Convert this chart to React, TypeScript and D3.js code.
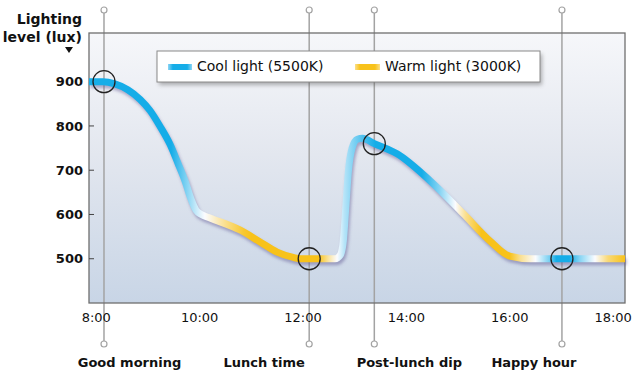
import React from "react";
import * as d3 from "d3";

// ---- data ----
const curveHours = [7.86, 8.13, 8.36, 8.61, 8.85, 9.04, 9.23, 9.43, 9.58, 9.72, 9.83, 9.93, 10.03, 10.2, 10.78, 11.17, 11.5, 11.81, 11.95, 12.62, 12.72, 12.78, 12.83, 12.88, 12.95, 13.05, 13.15, 13.38, 13.82, 14.46, 15.1, 15.62, 16.0, 16.4, 18.23];
const curveLux = [900, 900, 895, 882, 860, 835, 800, 758, 716, 675, 636, 610, 600, 592, 565, 538, 515, 503, 500, 500, 508, 540, 620, 700, 750, 770, 772, 760, 737, 676, 602, 540, 506, 500, 500];

// colour temperature along the day: 1 = cool, 0 = neutral, -1 = warm
const toneHours = [7.86, 9.45, 9.7, 9.95, 10.1, 10.5, 10.85, 11.0, 12.3, 12.5, 12.66, 12.8, 12.95, 13.15, 13.4, 14.3, 14.65, 14.95, 15.15, 15.45, 16.0, 16.2, 16.5, 16.78, 16.9, 17.15, 17.36, 17.65, 17.9, 18.23];
const toneValues = [1, 1, 0.6, 0.2, 0, -0.5, -0.9, -1, -1, -0.4, 0, 0.3, 0.5, 0.75, 1, 1, 0.5, 0, -0.5, -1, -1, -0.5, 0, 0.6, 1, 1, 0.5, 0, -0.6, -1];

const eventNames = ["Good morning", "Lunch time", "Post-lunch dip", "Happy hour"];
const eventHours = [8.15, 12.12, 13.38, 17.01];
const eventLux = [900, 500, 760, 500];

const xTickHours = [8, 10, 12, 14, 16, 18];
const xTickLabels = ["8:00", "10:00", "12:00", "14:00", "16:00", "18:00"];
const yTicks = [500, 600, 700, 800, 900];

const legendLabels = ["Cool light (5500K)", "Warm light (3000K)"];

// ---- layout ----
const W = 640, H = 381;
const PL = 89, PR = 625, PT = 33, PB = 303;
const LABEL_DX = [25.5, -45, 35, -28];
const COOL = "#15ade8";
const WARM = "#f8c21a";
const NEUTRAL = "#fbfcff";
const FONT = "'DejaVu Sans', sans-serif";

const x = d3.scaleLinear().domain([7.86, 18.23]).range([PL, PR]);
const y = d3.scaleLinear().domain([400, 1010]).range([PB, PT]);

function toneColor(t: number) {
  if (t >= 0) return d3.interpolateRgb(NEUTRAL, COOL)(t);
  return d3.interpolateRgb(NEUTRAL, WARM)(-t);
}

export default function App() {
  const pts = curveHours.map((h, i) => [h, curveLux[i]] as [number, number]);
  const line = d3
    .line<[number, number]>()
    .x((d) => x(d[0]))
    .y((d) => y(d[1]))
    .curve(d3.curveMonotoneX);
  const path = line(pts) || "";
  const x0 = x(curveHours[0]);
  const x1 = x(curveHours[curveHours.length - 1]);

  return (
    <div style={{ position: "absolute", left: 0, top: 0 }}>
      <svg width={W} height={H} style={{ display: "block", fontFamily: FONT }}>
        <defs>
          <linearGradient id="bg" x1="0" y1="0" x2="0" y2="1">
            <stop offset="0" stopColor="#f6f7fa" />
            <stop offset="0.45" stopColor="#e3e7ef" />
            <stop offset="1" stopColor="#c8d5e6" />
          </linearGradient>
          <linearGradient id="curveGrad" gradientUnits="userSpaceOnUse" x1={x0} y1={0} x2={x1} y2={0}>
            {toneHours.map((h, i) => (
              <stop key={i} offset={(x(h) - x0) / (x1 - x0)} stopColor={toneColor(toneValues[i])} />
            ))}
          </linearGradient>
          <linearGradient id="swCool" x1="0" y1="0" x2="1" y2="0">
            <stop offset="0" stopColor="#8fd6f5" />
            <stop offset="0.2" stopColor={COOL} />
            <stop offset="0.8" stopColor={COOL} />
            <stop offset="1" stopColor="#8fd6f5" />
          </linearGradient>
          <linearGradient id="swWarm" x1="0" y1="0" x2="1" y2="0">
            <stop offset="0" stopColor="#fbe08a" />
            <stop offset="0.2" stopColor={WARM} />
            <stop offset="0.8" stopColor={WARM} />
            <stop offset="1" stopColor="#fbe08a" />
          </linearGradient>
          <filter id="blur" x="-10%" y="-10%" width="120%" height="130%">
            <feGaussianBlur stdDeviation="1.6" />
          </filter>
          <filter id="legShadow" x="-5%" y="-20%" width="115%" height="160%">
            <feGaussianBlur stdDeviation="2" />
          </filter>
        </defs>

        {/* plot background */}
        <rect x={PL} y={PT} width={PR - PL} height={PB - PT} fill="url(#bg)" />

        {/* event guide lines */}
        {eventHours.map((h, i) => (
          <g key={i}>
            <line x1={x(h)} x2={x(h)} y1={13} y2={341} stroke="#a3a3a3" strokeWidth={1.5} />
            <circle cx={x(h)} cy={10} r={3} fill="#fff" stroke="#a3a3a3" strokeWidth={1.2} />
            <circle cx={x(h)} cy={344} r={3} fill="#fff" stroke="#a3a3a3" strokeWidth={1.2} />
            <text x={x(h) + LABEL_DX[i]} y={367} textAnchor="middle" fontSize={13} fontWeight="bold" fill="#111">
              {eventNames[i]}
            </text>
          </g>
        ))}

        {/* plot border */}
        <rect x={PL} y={PT} width={PR - PL} height={PB - PT} fill="none" stroke="#6f6f6f" strokeWidth={1.3} />

        {/* y axis ticks */}
        {yTicks.map((t) => (
          <g key={t}>
            <line x1={PL} x2={PL + 5} y1={y(t)} y2={y(t)} stroke="#444" strokeWidth={1} />
            <text x={83} y={y(t)} dy="0.36em" textAnchor="end" fontSize={13} fontWeight="bold" fill="#111">
              {t}
            </text>
          </g>
        ))}

        {/* x axis labels */}
        {xTickHours.map((h, i) => (
          <text key={h} x={x(h)} y={322} textAnchor="middle" fontSize={13} fill="#111">
            {xTickLabels[i]}
          </text>
        ))}

        {/* y axis title */}
        <text x={82} y={24} textAnchor="end" fontSize={14} fontWeight="bold" fill="#111">Lighting</text>
        <text x={82} y={42} textAnchor="end" fontSize={14} fontWeight="bold" fill="#111">level (lux)</text>
        <path d="M65,47 L73,47 L69,53 Z" fill="#111" />

        {/* curve shadow + curve */}
        <path d={path} fill="none" stroke="#5c5290" strokeOpacity={0.45} strokeWidth={7} transform="translate(1.5,3)" filter="url(#blur)" />
        <path d={path} fill="none" stroke="url(#curveGrad)" strokeWidth={7} strokeLinejoin="round" />

        {/* event markers */}
        {eventHours.map((h, i) => (
          <circle key={i} cx={x(h)} cy={y(eventLux[i])} r={11} fill="none" stroke="#222" strokeWidth={1.3} />
        ))}

        {/* legend */}
        <rect x={159} y={54} width={383} height={31} fill="#555" opacity={0.45} filter="url(#legShadow)" />
        <rect x={157} y={51} width={383} height={31} fill="#fff" stroke="#8a8a8a" strokeWidth={1} />
        <rect x={168} y={64} width={24} height={6} fill="url(#swCool)" />
        <text x={197} y={71} fontSize={14} fill="#111">{legendLabels[0]}</text>
        <rect x={355} y={64} width={25} height={6} fill="url(#swWarm)" />
        <text x={385} y={71} fontSize={14} fill="#111">{legendLabels[1]}</text>
      </svg>
    </div>
  );
}
